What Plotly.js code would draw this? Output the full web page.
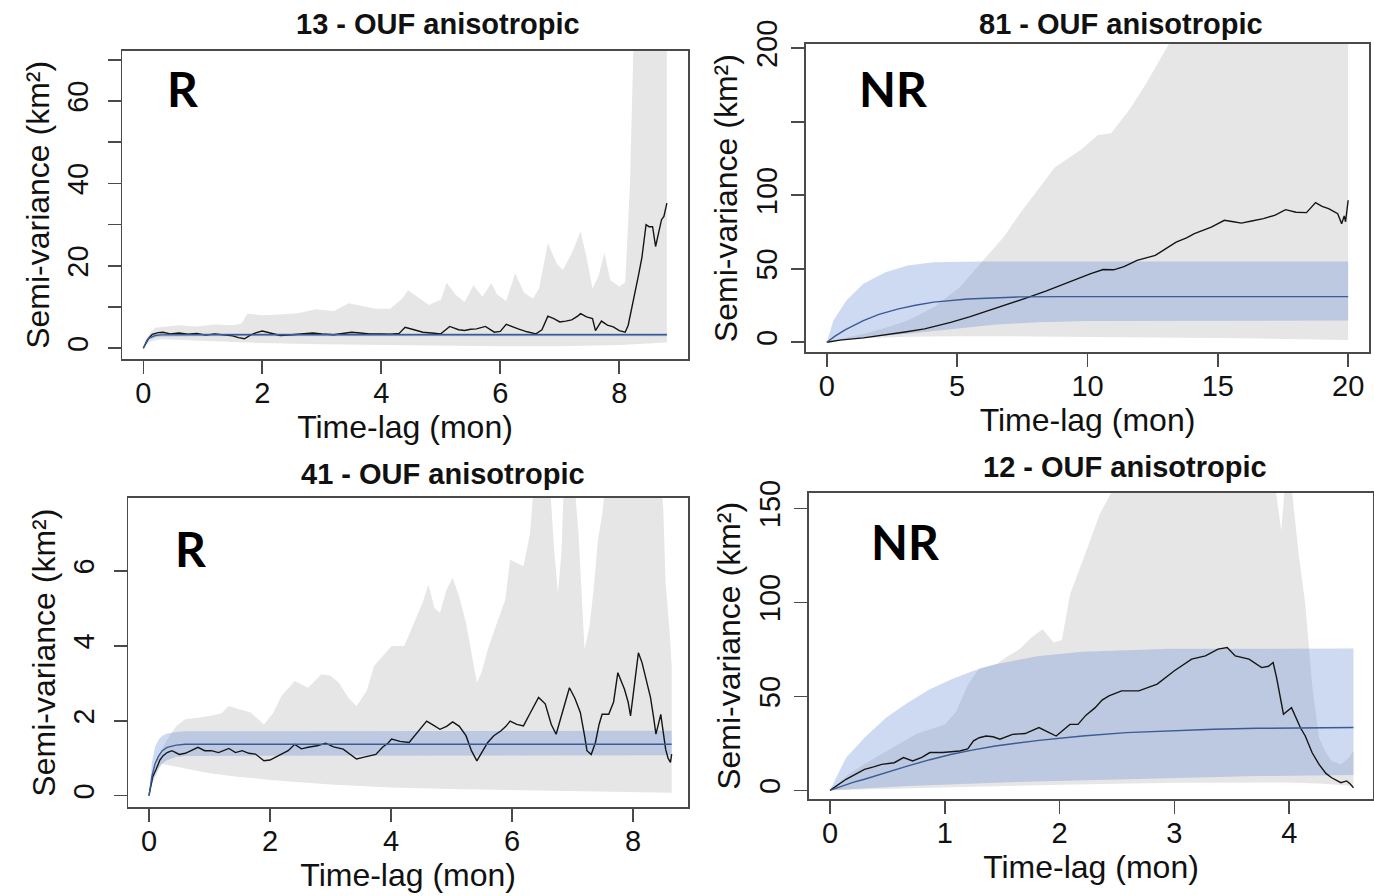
<!DOCTYPE html>
<html><head><meta charset="utf-8">
<script src="https://cdn.plot.ly/plotly-3.0.1.min.js"></script>
<style>html,body{margin:0;padding:0;background:#fff}#chart{width:1374px;height:896px}</style>
</head><body><div id="chart"></div>
<script>
// ---------- Panel 1: 13 - OUF anisotropic (R) ----------
const emp13_x = [0, 0.08, 0.15, 0.25, 0.33, 0.45, 0.6, 0.75, 0.9, 1.05,
  1.2, 1.35, 1.5, 1.6, 1.7, 1.8, 1.9, 2.0, 2.15, 2.3,
  2.5, 2.7, 2.85, 3.0, 3.2, 3.35, 3.5, 3.65, 3.8, 4.0,
  4.15, 4.3, 4.4, 4.55, 4.7, 4.85, 5.0, 5.15, 5.3, 5.4,
  5.5, 5.6, 5.75, 5.9, 6.0, 6.1, 6.2, 6.3, 6.45, 6.6,
  6.7, 6.8, 6.9, 7.0, 7.1, 7.2, 7.3, 7.35, 7.45, 7.55,
  7.6, 7.7, 7.8, 7.9, 8.0, 8.1, 8.15, 8.24, 8.32, 8.38,
  8.45, 8.5, 8.56, 8.61, 8.68, 8.71, 8.75, 8.8];
const emp13_y = [0, 2.2, 3.4, 3.8, 3.9, 3.5, 3.7, 3.4, 3.6, 3.2,
  3.5, 3.3, 3.0, 2.6, 2.3, 3.2, 3.8, 4.2, 3.6, 3.1,
  3.3, 3.5, 3.7, 3.5, 3.3, 3.6, 3.9, 3.7, 3.5, 3.5,
  3.4, 3.6, 5.1, 4.5, 3.9, 3.7, 3.5, 5.3, 4.5, 4.3,
  4.6, 4.7, 5.3, 3.9, 4.1, 5.8, 5.2, 4.7, 4.0, 3.5,
  4.5, 7.8, 7.2, 6.4, 6.6, 6.9, 7.8, 8.4, 7.6, 7.2,
  4.3, 6.6, 5.6, 5.2, 4.3, 3.9, 5.6, 11.5, 17.5, 22,
  30, 29.5, 29.5, 24.7, 29.5, 31.2, 32, 35.2];
const gu13_x = [0, 0.1, 0.2, 0.35, 0.6, 0.9, 1.2, 1.5, 1.65, 1.75,
  2.0, 2.3, 2.6, 2.9, 3.2, 3.45, 3.6, 3.9, 4.15, 4.35,
  4.45, 4.6, 4.8, 5.0, 5.1, 5.25, 5.4, 5.55, 5.7, 5.85,
  5.95, 6.1, 6.25, 6.4, 6.55, 6.65, 6.8, 6.95, 7.05, 7.2,
  7.35, 7.45, 7.55, 7.65, 7.75, 7.85, 8.0, 8.1, 8.18, 8.25, 8.8];
const gu13_y = [0, 3.5, 5.0, 5.2, 5.6, 5.3, 5.8, 5.6, 6.0, 8.4,
  8.0, 8.2, 8.5, 9.5, 9.0, 10.9, 10.5, 9.6, 9.6, 12.0,
  14.1, 12.5, 10.5, 11.8, 15.9, 13.0, 11.2, 15.3, 12.5, 15.8,
  13.0, 11.5, 18.2, 13.5, 12.0, 14.5, 25.5, 20.5, 19.0, 23.0,
  28.4, 22.0, 14.5, 17.5, 23.1, 16.5, 15.0, 16.0, 40, 80, 80];
const gl13_x = [0, 0.1, 0.3, 1, 2, 3, 4, 5, 6, 7, 8, 8.8];
const gl13_y = [0, 1.6, 2.2, 1.8, 1.3, 1.0, 0.8, 0.6, 0.5, 0.5, 0.8, 1.4];
const mod13_x = [0, 0.03, 0.06, 0.1, 0.15, 0.2, 0.3, 0.45, 0.7, 1.0, 8.8];
const mod13_y = [0, 1.1, 1.9, 2.5, 2.9, 3.1, 3.25, 3.3, 3.3, 3.3, 3.3];
const bu13_y = [0, 1.6, 2.5, 3.1, 3.4, 3.55, 3.65, 3.7, 3.7, 3.7, 3.7];
const bl13_y = [0, 0.7, 1.4, 2.0, 2.4, 2.65, 2.8, 2.85, 2.9, 2.9, 2.9];

// ---------- Panel 2: 81 - OUF anisotropic (NR) ----------
const emp81_x = [0, 0.5, 1.4, 2.3, 3.0, 3.75, 4.75, 5.5, 6.4, 7.1,
  7.75, 8.4, 9.1, 9.6, 10.1, 10.6, 11.0, 11.4, 11.9, 12.6,
  13.0, 13.4, 13.8, 14.1, 14.75, 15.25, 15.6, 15.9, 16.3, 16.75,
  17.2, 17.6, 18.0, 18.4, 18.75, 19.0, 19.25, 19.6, 19.75, 19.85,
  19.9, 19.95, 20.0];
const emp81_y = [0, 1.5, 3.0, 5.0, 7.0, 9.1, 13.6, 17.5, 22.7, 26.5,
  30.7, 34.8, 39.8, 43.0, 46.6, 49.5, 49.3, 51.5, 55.7, 59.1,
  63.5, 68.2, 71.0, 73.9, 78.4, 83.0, 82.0, 81.1, 82.5, 84.1,
  86.5, 90.2, 88.5, 88.2, 95.0, 92.5, 90.9, 87.5, 80.7, 86.0,
  82.0, 90.0, 96.6];
const gu81_x = [0, 0.5, 1.4, 2.2, 3.1, 4.1, 5.1, 6.1, 6.8, 7.4,
  8.1, 8.75, 9.75, 10.4, 10.9, 11.6, 12.25, 13.1, 14.0, 20.0];
const gu81_y = [0, 2.5, 5.7, 9.5, 14.8, 23.9, 37.5, 58, 72, 87.5,
  104, 119, 131, 141, 142, 158, 176, 202, 230, 260];
const gl81_x = [0, 1, 3, 5, 8, 12, 16, 20];
const gl81_y = [0, 2.5, 3.8, 4.2, 4.0, 3.5, 2.8, 1.6];
const mod81_x = [0, 0.3, 0.7, 1.4, 2.0, 2.75, 3.4, 4.1, 5.4, 6.5, 7.4, 9, 20];
const mod81_y = [0, 4.0, 8.5, 14.8, 19.0, 22.7, 25.2, 27.3, 29.5, 30.4, 30.9, 31.1, 31.1];
const bu81_x = [0, 0.25, 0.75, 1.4, 2.25, 3.1, 4.1, 6, 20];
const bu81_y = [0, 14.8, 28.4, 39.8, 47.7, 52.3, 54.5, 55, 55];
const bl81_x = [0, 1.5, 3, 4.75, 6.4, 8.1, 10, 20];
const bl81_y = [0, 3.4, 5.7, 9.1, 12, 13.6, 14.5, 14.8];

// ---------- Panel 3: 41 - OUF anisotropic (R) ----------
const emp41_x = [0, 0.06, 0.12, 0.18, 0.23, 0.3, 0.38, 0.5, 0.6, 0.7,
  0.81, 0.92, 1.03, 1.15, 1.32, 1.43, 1.54, 1.65, 1.76, 1.9,
  2.0, 2.19, 2.3, 2.41, 2.52, 2.63, 2.78, 2.92, 3.05, 3.21,
  3.32, 3.43, 3.54, 3.64, 3.75, 3.86, 3.95, 4.01, 4.15, 4.3,
  4.45, 4.59, 4.7, 4.81, 4.92, 5.02, 5.13, 5.24, 5.33, 5.42,
  5.5, 5.6, 5.7, 5.82, 5.9, 5.97, 6.08, 6.19, 6.3, 6.44,
  6.55, 6.65, 6.73, 6.85, 6.95, 7.04, 7.13, 7.2, 7.24, 7.31,
  7.38, 7.44, 7.49, 7.6, 7.68, 7.75, 7.8, 7.86, 7.92, 7.96,
  8.02, 8.09, 8.15, 8.22, 8.29, 8.34, 8.38, 8.42, 8.46, 8.5,
  8.54, 8.58, 8.62, 8.64];
const emp41_y = [0, 0.5, 0.71, 0.95, 1.06, 1.15, 1.2, 1.1, 1.13, 1.2,
  1.29, 1.2, 1.2, 1.15, 1.26, 1.15, 1.2, 1.13, 1.11, 0.93,
  0.95, 1.11, 1.2, 1.37, 1.25, 1.29, 1.33, 1.4, 1.3, 1.24,
  1.12, 0.98, 1.02, 1.06, 1.1, 1.29, 1.4, 1.51, 1.45, 1.42,
  1.7, 1.99, 1.88, 1.77, 1.85, 1.97, 1.85, 1.6, 1.2, 0.93,
  1.15, 1.42, 1.6, 1.73, 1.85, 1.99, 1.9, 1.86, 2.2, 2.62,
  2.45, 1.9, 1.64, 2.3, 2.88, 2.6, 2.22, 1.6, 1.2, 1.1,
  1.42, 1.9, 2.17, 2.17, 2.5, 3.28, 3.1, 2.84, 2.5, 2.13,
  2.9, 3.81, 3.55, 3.1, 2.62, 2.1, 1.64, 1.9, 2.17, 1.7,
  1.24, 1.0, 0.89, 1.11];
const gu41_x = [0, 0.09, 0.2, 0.3, 0.45, 0.6, 0.8, 1.03, 1.2, 1.32,
  1.5, 1.68, 1.9, 2.05, 2.19, 2.41, 2.63, 2.85, 3.0, 3.14,
  3.3, 3.43, 3.6, 3.72, 3.85, 4.01, 4.22, 4.35, 4.52, 4.62,
  4.72, 4.81, 4.92, 5.02, 5.13, 5.24, 5.33, 5.42, 5.5, 5.6,
  5.75, 5.89, 5.97, 6.08, 6.19, 6.3, 6.37, 6.45, 6.6, 6.7,
  6.76, 6.82, 6.87, 7.0, 7.1, 7.2, 7.28, 7.35, 7.42, 7.49,
  7.56, 7.64, 8.43, 8.5, 8.54, 8.6, 8.64];
const gu41_y = [0, 0.71, 1.2, 1.5, 1.85, 2.04, 2.08, 2.13, 2.2, 2.39,
  2.3, 2.22, 1.9, 2.2, 2.66, 3.06, 2.88, 3.24, 3.2, 3.01,
  2.6, 2.39, 2.8, 3.46, 3.7, 3.99, 3.99, 4.5, 5.14, 5.63,
  5.0, 4.88, 5.5, 5.81, 5.3, 4.61, 3.8, 3.01, 3.3, 3.9,
  4.6, 5.23, 6.29, 6.2, 6.12, 7.0, 8.5, 9, 9, 6.5,
  5.41, 6.5, 9, 9, 7.0, 3.9, 4.5, 5.5, 6.8, 7.5,
  8.5, 9, 9, 7.7, 5.67, 4.5, 3.46];
const gl41_x = [0, 0.1, 0.2, 0.5, 1, 1.5, 2, 3, 4, 5, 6, 7, 8, 8.64];
const gl41_y = [0, 0.6, 0.85, 0.75, 0.6, 0.5, 0.42, 0.3, 0.22, 0.18, 0.15, 0.12, 0.08, 0.08];
const mod41_x = [0, 0.025, 0.05, 0.1, 0.16, 0.22, 0.3, 0.45, 0.6, 8.64];
const mod41_y = [0, 0.3, 0.53, 0.85, 1.06, 1.2, 1.29, 1.35, 1.37, 1.37];
const bu41_y = [0, 0.5, 0.89, 1.3, 1.5, 1.6, 1.66, 1.7, 1.72, 1.73];
const bl41_y = [0, 0.15, 0.3, 0.5, 0.71, 0.85, 0.95, 1.03, 1.06, 1.08];

// ---------- Panel 4: 12 - OUF anisotropic (NR) ----------
const emp12_x = [0, 0.07, 0.14, 0.22, 0.3, 0.38, 0.45, 0.56, 0.64, 0.72,
  0.8, 0.87, 0.98, 1.13, 1.2, 1.25, 1.3, 1.36, 1.42, 1.48,
  1.59, 1.7, 1.82, 1.9, 1.97, 2.03, 2.09, 2.16, 2.23, 2.31,
  2.37, 2.43, 2.54, 2.69, 2.85, 3.0, 3.15, 3.27, 3.38, 3.46,
  3.53, 3.65, 3.76, 3.82, 3.86, 3.89, 3.92, 3.95, 4.02, 4.06,
  4.1, 4.14, 4.2, 4.26, 4.32, 4.37, 4.45, 4.5, 4.53, 4.56];
const emp12_y = [0, 3.0, 5.9, 8.5, 11.2, 12.5, 13.8, 14.7, 17.4, 15.6,
  17.5, 20.1, 20.1, 20.9, 22.0, 26.3, 28.0, 28.9, 28.5, 27.2,
  29.8, 30.2, 33.4, 31.0, 28.9, 32.0, 35.1, 35.1, 40.0, 44.0,
  48.0, 50.2, 52.9, 52.9, 56.5, 63.6, 69.8, 71.5, 75.1, 76.0,
  71.5, 69.8, 65.3, 66.0, 68.0, 60.0, 50.0, 40.5, 44.0, 38.7,
  33.0, 28.9, 20.0, 13.8, 9.0, 6.7, 4.1, 5.0, 3.5, 1.4];
const gu12_x = [0, 0.15, 0.3, 0.5, 0.75, 1.0, 1.1, 1.2, 1.3, 1.45,
  1.55, 1.65, 1.75, 1.85, 1.95, 2.02, 2.09, 2.2, 2.35, 2.43,
  2.6, 3.85, 3.9, 3.93, 3.96, 4.0, 4.04, 4.08, 4.14, 4.2,
  4.26, 4.32, 4.37, 4.45, 4.52, 4.56];
const gu12_y = [0, 8, 14, 21, 30, 35, 42, 56, 65, 67,
  71.5, 75, 81, 85.7, 78.6, 80, 104, 122, 147, 156,
  175, 175, 150, 138, 160, 175, 150, 127, 99, 56,
  28, 20, 15.6, 13.8, 17.4, 21];
const gl12_x = [0, 0.5, 1, 2, 3, 4, 4.3, 4.56];
const gl12_y = [0, 0.8, 1.4, 3.0, 4.0, 4.2, 3.5, 2.3];
const mod12_x = [0, 0.1, 0.2, 0.3, 0.5, 0.68, 0.87, 1.06, 1.25, 1.44, 1.82, 2.2, 2.58, 2.96, 3.34, 3.72, 4.1, 4.56];
const mod12_y = [0, 2.2, 4.2, 5.9, 9.8, 13.0, 16.3, 19.2, 21.5, 23.6, 26.6, 28.9, 30.7, 31.6, 32.5, 33.0, 33.2, 33.4];
const bu12_x = [0, 0.07, 0.14, 0.3, 0.49, 0.68, 0.87, 1.06, 1.25, 1.44, 1.82, 2.2, 2.58, 2.96, 4.56];
const bu12_y = [0, 9, 17.4, 28, 38.7, 46.7, 53.8, 59.1, 63.6, 67.1, 71.5, 73.7, 74.7, 75.3, 75.4];
const bl12_x = [0, 0.3, 0.68, 1.44, 2.2, 2.96, 3.72, 4.56];
const bl12_y = [0, 1.1, 2.3, 4.1, 5.3, 6.7, 7.6, 8.2];

// ---------- text ----------
const titles = ['13 - OUF anisotropic', '81 - OUF anisotropic', '41 - OUF anisotropic', '12 - OUF anisotropic'];
const tags = ['R', 'NR', 'R', 'NR'];
const xTitle = 'Time-lag (mon)';
const yTitle = 'Semi-variance (km²)';
const xt13 = [0, 2, 4, 6, 8], xt81 = [0, 5, 10, 15, 20], xt41 = [0, 2, 4, 6, 8], xt12 = [0, 1, 2, 3, 4];
const yt13 = [0, 10, 20, 30, 40, 50, 60, 70], yl13 = ['0', '', '20', '', '40', '', '60', ''];
const yt81 = [0, 50, 100, 150, 200], yl81 = ['0', '50', '100', '', '200'];
const yt41 = [0, 2, 4, 6], yl41 = ['0', '2', '4', '6'];
const yt12 = [0, 50, 100, 150], yl12 = ['0', '50', '100', '150'];

// ---------- build ----------
const W = 1374, H = 896;
const fx = v => v / W, fy = v => 1 - v / H;
const GRAY = '#e6e6e6', BFILL = 'rgba(100,140,210,0.32)', BLINE = '#3b5a96', BLACK = '#151515';
const FONT = 'Liberation Sans, Arial, sans-serif';

const traces = [];
function panel(k, gl, gu, bl, bu, mod, emp) {
  const xa = k === 1 ? 'x' : 'x' + k, ya = k === 1 ? 'y' : 'y' + k;
  const base = {xaxis: xa, yaxis: ya, mode: 'lines', hoverinfo: 'skip', showlegend: false};
  traces.push(Object.assign({}, base, {x: gl[0], y: gl[1], line: {width: 0, color: GRAY}}));
  traces.push(Object.assign({}, base, {x: gu[0], y: gu[1], line: {width: 0, color: GRAY}, fill: 'tonexty', fillcolor: GRAY}));
  traces.push(Object.assign({}, base, {x: bl[0], y: bl[1], line: {width: 0, color: BFILL}}));
  traces.push(Object.assign({}, base, {x: bu[0], y: bu[1], line: {width: 0, color: BFILL}, fill: 'tonexty', fillcolor: BFILL}));
  traces.push(Object.assign({}, base, {x: emp[0], y: emp[1], line: {width: 1.4, color: BLACK}}));
  traces.push(Object.assign({}, base, {x: mod[0], y: mod[1], line: {width: 1.4, color: BLINE}}));
}
panel(1, [gl13_x, gl13_y], [gu13_x, gu13_y], [mod13_x, bl13_y], [mod13_x, bu13_y], [mod13_x, mod13_y], [emp13_x, emp13_y]);
panel(2, [gl81_x, gl81_y], [gu81_x, gu81_y], [bl81_x, bl81_y], [bu81_x, bu81_y], [mod81_x, mod81_y], [emp81_x, emp81_y]);
panel(3, [gl41_x, gl41_y], [gu41_x, gu41_y], [mod41_x, bl41_y], [mod41_x, bu41_y], [mod41_x, mod41_y], [emp41_x, emp41_y]);
panel(4, [gl12_x, gl12_y], [gu12_x, gu12_y], [bl12_x, bl12_y], [bu12_x, bu12_y], [mod12_x, mod12_y], [emp12_x, emp12_y]);

const axBase = {
  showline: true, mirror: true, linecolor: '#4a4a4a', linewidth: 1.8,
  ticks: 'outside', ticklen: 13, tickwidth: 1.6, tickcolor: '#4a4a4a',
  showgrid: false, zeroline: false, fixedrange: true,
  tickfont: {family: FONT, size: 29, color: '#111'}
};
function xax(dom, range, tv, yAnchor) {
  return Object.assign({}, axBase, {domain: dom, range: range, tickvals: tv, ticktext: tv.map(String),
    anchor: yAnchor, ticklabelstandoff: -6,
    title: {text: xTitle, font: {family: FONT, size: 32, color: '#111'}, standoff: 8}});
}
function yax(dom, range, tv, tl, xAnchor, lstand) {
  return Object.assign({}, axBase, {domain: dom, range: range, tickvals: tv, ticktext: tl,
    anchor: xAnchor, tickangle: -90, ticklabelstandoff: lstand,
    title: {text: yTitle, font: {family: FONT, size: 32, color: '#111'}, standoff: 3}});
}

const layout = {
  width: W, height: H, margin: {l: 0, r: 0, t: 0, b: 0},
  paper_bgcolor: '#fff', plot_bgcolor: '#fff', showlegend: false,
  xaxis:  xax([fx(122.3), fx(687.7)], [-0.353, 9.15], xt13, 'y'),
  yaxis:  yax([fy(359), fy(50.7)], [-2.6, 72.2], yt13, yl13, 'x', 8),
  xaxis2: xax([fx(806), fx(1369)], [-0.8, 20.8], xt81, 'y2'),
  yaxis2: yax([fy(352.3), fy(44)], [-6.8, 202.9], yt81, yl81, 'x2', 3),
  xaxis3: xax([fx(128.3), fx(688)], [-0.342, 8.91], xt41, 'y3'),
  yaxis3: yax([fy(807.3), fy(498)], [-0.31, 7.94], yt41, yl41, 'x3', 8),
  xaxis4: xax([fx(809), fx(1373)], [-0.183, 4.73], xt12, 'y4'),
  yaxis4: yax([fy(799), fy(492.7)], [-4.6, 158.3], yt12, yl12, 'x4', 3),
  annotations: []
};
const titlePos = [[437.7, 24], [1121, 24], [442.5, 474], [1124.5, 467]];
const tagPos = [[182.5, 89], [893, 89], [190, 548], [905, 541]];
titles.forEach((t, i) => layout.annotations.push({
  text: t, xref: 'paper', yref: 'paper', x: fx(titlePos[i][0]), y: fy(titlePos[i][1]),
  xanchor: 'center', yanchor: 'middle', showarrow: false,
  font: {family: FONT, size: 29, color: '#111', weight: 700}
}));
tags.forEach((t, i) => layout.annotations.push({
  text: t, xref: 'paper', yref: 'paper', x: fx(tagPos[i][0]), y: fy(tagPos[i][1]),
  xanchor: 'center', yanchor: 'middle', showarrow: false,
  font: {family: 'Lato, Open Sans, sans-serif', size: 48, color: '#000', weight: 700}
}));

Plotly.newPlot('chart', traces, layout, {displayModeBar: false, staticPlot: true});
</script>
</body></html>
